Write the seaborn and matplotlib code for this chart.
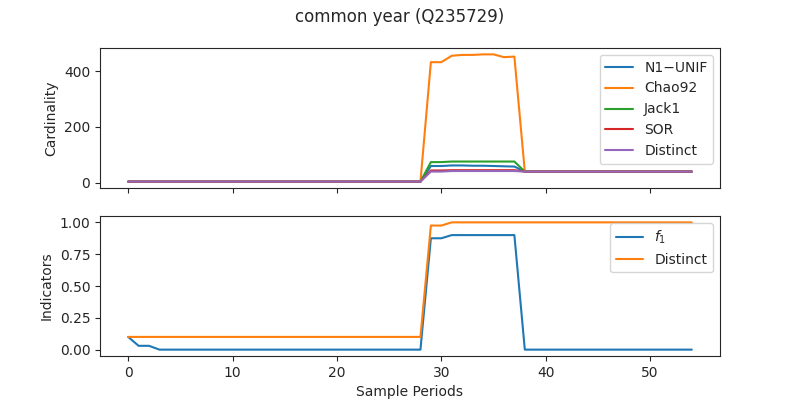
import matplotlib
matplotlib.use("Agg")
import matplotlib.pyplot as plt
import seaborn as sns
import numpy as np

x = list(range(55))
base = [4]*29
tail = [40]*17
chao92 = base + [432, 432, 455, 458, 458, 460, 460, 450, 452] + [40] + tail[1:]
jack1 = base + [74, 74, 76, 76, 76, 76, 76, 76, 76] + [40] + tail[1:]
n1unif = base + [60, 60, 62, 62, 61, 61, 60, 59, 58] + [40] + tail[1:]
sor = base + [44, 44, 45, 45, 45, 45, 45, 45, 45] + [40] + tail[1:]
distinct = base + [40, 40, 42, 42, 42, 42, 42, 42, 42] + [40] + tail[1:]
chao92 = chao92[:55]; jack1 = jack1[:55]; n1unif = n1unif[:55]; sor = sor[:55]; distinct = distinct[:55]

f1 = [0.1, 0.03, 0.03] + [0.0]*26 + [0.875, 0.875] + [0.9]*7 + [0.0]*17
dist_ind = [0.1]*29 + [0.975, 0.975] + [1.0]*24

sns.set_style("ticks")
plt.rcParams['font.family'] = ['DejaVu Sans']
fig, (ax1, ax2) = plt.subplots(2, 1, figsize=(8, 4), dpi=100, sharex=True)
for y, lab in [(n1unif, "N1\u2212UNIF"), (chao92, "Chao92"), (jack1, "Jack1"), (sor, "SOR"), (distinct, "Distinct")]:
    sns.lineplot(x=x, y=y, ax=ax1, label=lab)
ax1.set_ylabel("Cardinality")
ax1.legend(loc="upper right")
sns.lineplot(x=x, y=f1, ax=ax2, label="$f_1$")
sns.lineplot(x=x, y=dist_ind, ax=ax2, label="Distinct")
ax2.set_ylabel("Indicators")
ax2.set_xlabel("Sample Periods")
ax2.set_yticks([0, 0.25, 0.5, 0.75, 1.0])
ax2.legend(loc="upper right")
ax2.set_xlim(-2.7, 56.7)
fig.suptitle("common year (Q235729)")
fig.subplots_adjust(left=0.125, right=0.9, top=0.88, bottom=0.11)
fig.savefig("out.png")
